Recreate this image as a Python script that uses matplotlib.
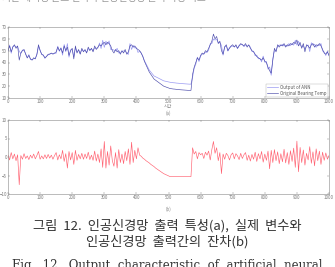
import numpy as np
import matplotlib
matplotlib.use("Agg")
import matplotlib.pyplot as plt

plt.rcParams['font.family'] = ['Noto Sans CJK KR', 'DejaVu Sans']

# time axis (samples)
time = np.arange(0, 1001, 5)

orig_temp = [
    50, 54, 49, 53, 55, 52, 54, 42, 48, 50, 51, 47, 44, 46, 43, 42, 44, 43, 47, 55, 50,
    47, 46, 44, 45, 47, 47, 48, 47, 48, 49, 53, 50, 52, 48, 54, 50, 53, 46, 50, 52,
    43, 54, 48, 51, 47, 52, 49, 51, 48, 53, 50, 52, 49, 54, 51, 53, 55, 54, 56, 57,
    55, 57, 56, 54, 50, 48, 51, 49, 50, 47, 50, 48, 51, 47, 49, 54, 55, 53, 54, 52,
    51, 50, 48, 45, 41, 38, 35, 32, 30, 28, 26, 25, 24, 23, 22, 21, 20, 19.5, 19, 18.5,
    18, 17.8, 17.6, 17.5, 17.3, 17.2, 17, 16.9, 16.8, 16.7, 16.6, 16.5, 16.4, 16.4, 30, 36, 40, 44, 42, 46,
    48, 47, 50, 49, 52, 55, 58, 64, 60, 62, 56, 58, 50, 47, 53, 55, 50, 52, 54, 55,
    53, 55, 52, 54, 56, 55, 54, 56, 53, 55, 52, 50, 49, 47, 45, 44, 43, 42, 44, 41,
    40, 36, 33, 31, 42, 52, 49, 55, 53, 55, 54, 56, 53, 55, 54, 56, 55, 57, 56, 59,
    54, 57, 52, 56, 49, 55, 54, 52, 55, 56, 53, 55, 54, 56, 54, 51, 48, 47, 49, 46,
]

residual = [
    0.5, -0.8, 1.2, -0.5, 0.8, -1.0, 0.6, -7.5, 0.4, -0.6, 0.9, -0.4, 0.3, -0.7, 0.5, -0.3, 0.8, -0.5, 0.4, 1.5, -0.6,
    0.3, -0.5, 0.6, -0.4, 0.7, -0.3, 0.5, -0.6, 0.4, 1.2, -0.8, 0.6, -0.5, 1.8, -1.2, 0.9, -3.0, 1.5, -0.8, 1.2,
    -2.0, 1.8, -0.9, 0.7, -0.5, 1.0, -0.6, 0.8, -0.4, 1.3, -0.7, 0.5, -0.9, 1.6, -1.1, 0.8, -1.5, 2.2, -2.8, 4.2,
    -3.0, 1.5, -2.2, 3.0, -1.0, -2.5, 1.2, -3.0, 2.0, -1.5, 0.8, -1.8, 1.5, -1.0, 2.2, -2.0, 4.0, -1.5, 1.8, -0.5,
    2.5, 0.5, 0.2, -0.3, -0.6, -1.0, -1.3, -1.6, -2.0, -2.3, -2.6, -3.0, -3.3, -3.6, -3.9, -4.2, -4.5, -4.7, -4.9, -5.1,
    -5.3, -5.3, -5.3, -5.3, -5.3, -5.3, -5.3, -5.3, -5.3, -5.3, -5.3, -5.3, -5.3, -5.3, 2.5, 0.8, 1.5, -0.5, 1.2, 0.6,
    1.0, -0.4, 1.3, 0.5, 1.6, -0.8, 2.0, 4.2, 1.0, 2.5, -1.0, 1.2, -4.5, 0.8, -0.6, 1.0, 0.4, -0.8, 0.6, 1.1,
    -0.5, 0.9, 0.3, -0.7, 1.0, -0.4, 0.6, 1.2, -0.9, 0.5, -1.1, 0.7, -0.6, 1.3, -1.2, 0.9, -0.5, 1.5, -1.4, 0.8,
    -0.9, 1.6, -3.2, 1.8, -1.5, 2.0, -1.0, 1.4, -1.8, 0.9, -1.3, 2.1, -1.6, 1.2, -2.0, 1.7, -1.2, 2.4, -2.8, 4.3,
    -4.0, 2.6, -1.5, 1.9, -2.2, 1.0, -0.8, 2.8, -1.7, 1.4, -2.4, 2.2, -1.0, 1.6, -2.0, 1.3, -0.9, 1.1, -0.6, 0.4,
]

orig_temp = np.array(orig_temp, dtype=float)
residual = np.array(residual, dtype=float)
ann_output = orig_temp - residual

xticks = [0, 100, 200, 300, 400, 500, 600, 700, 800, 900, 1000]
top_yticks = [10, 20, 30, 40, 50, 60, 70]
bot_yticks = [-10, -5, 0, 5, 10]
legend_labels = ["Output of ANN", "Original Bearing Temp"]

W, H = 335, 267
fig = plt.figure(figsize=(W / 100, H / 100), dpi=100)

def style(ax):
    for s in ax.spines.values():
        s.set_linewidth(0.4)
        s.set_color("#888888")
    ax.tick_params(direction="in", length=1.5, width=0.3, labelsize=3.2,
                   colors="#777777", pad=0.8, top=True, right=True)

ax1 = fig.add_axes([8 / W, 1 - 98 / H, 321 / W, 71 / H])
ax1.plot(time, ann_output, color="#9a9af2", lw=0.5, label=legend_labels[0])
ax1.plot(time, orig_temp, color="#4a4aaa", lw=0.45, label=legend_labels[1])
ax1.set_xlim(0, 1000)
ax1.set_ylim(10, 70)
ax1.set_xticks(xticks)
ax1.set_yticks(top_yticks)
style(ax1)
leg = ax1.legend(loc="lower right", fontsize=3.2, frameon=True, fancybox=False,
                 borderpad=0.3, handlelength=2.5, labelspacing=0.2,
                 borderaxespad=0.2, handletextpad=0.4)
leg.get_frame().set_linewidth(0.3)
leg.get_frame().set_edgecolor("#999999")
for t in leg.get_texts():
    t.set_color("#555555")

ax2 = fig.add_axes([8 / W, 1 - 194 / H, 321 / W, 74 / H])
ax2.plot(time, residual, color="#ff6070", lw=0.45)
ax2.set_xlim(0, 1000)
ax2.set_ylim(-10, 10)
ax2.set_xticks(xticks)
ax2.set_yticks(bot_yticks)
style(ax2)

# small axis annotations near the 500 tick
fig.text(168 / W, 1 - 107 / H, "시간", fontsize=3.2, color="#888888", ha="center", va="center")
fig.text(168 / W, 1 - 113 / H, "(a)", fontsize=3.2, color="#888888", ha="center", va="center")
fig.text(168 / W, 1 - 209 / H, "(b)", fontsize=3.2, color="#888888", ha="center", va="center")

# cut-off text at the top
fig.text(2 / W, 1 + 2 / H, "기존 베어링 온도 변화와 인공신경망 출력 특성 비교", fontsize=7,
         color="#999999", ha="left", va="center")

# caption
fig.text(0.5, 1 - 226 / H, "그림  12.  인공신경망  출력  특성(a),  실제  변수와",
         fontsize=9.5, color="#333333", ha="center", va="center")
fig.text(0.5, 1 - 242 / H, "인공신경망  출력간의  잔차(b)",
         fontsize=9.5, color="#333333", ha="center", va="center")
fig.text(0.5, 1 - 265 / H, "Fig.  12.  Output  characteristic  of  artificial  neural",
         fontsize=8.5, color="#333333", ha="center", va="center", family="DejaVu Serif")

fig.savefig("out.png", dpi=100)
